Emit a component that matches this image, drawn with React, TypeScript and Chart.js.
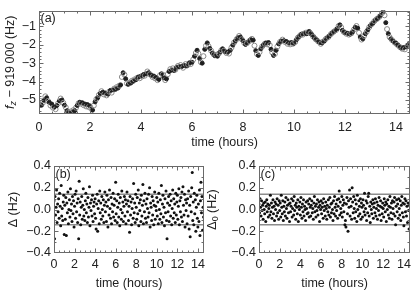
import React, { useEffect, useRef } from 'react';
import { Chart, registerables } from 'chart.js';
Chart.register(...registerables);

const FONT = "'Liberation Sans', Arial, Helvetica, sans-serif";
const TEXT = '#222';

// time axis (hours)
const TIME = [
  0,0.05,0.1,0.15,0.2,0.25,0.3,0.35,0.4,0.45,0.5,0.55,0.6,0.65,0.7,0.75,0.8,0.85,0.9,0.95,
  1,1.05,1.1,1.15,1.2,1.25,1.3,1.35,1.4,1.45,1.5,1.55,1.6,1.65,1.7,1.75,1.8,1.85,1.9,1.95,
  2,2.05,2.1,2.15,2.2,2.25,2.3,2.35,2.4,2.45,2.5,2.55,2.6,2.65,2.7,2.75,2.8,2.85,2.9,2.95,
  3,3.05,3.1,3.15,3.2,3.25,3.3,3.35,3.4,3.45,3.5,3.55,3.6,3.65,3.7,3.75,3.8,3.85,3.9,3.95,
  4,4.05,4.1,4.15,4.2,4.25,4.3,4.35,4.4,4.45,4.5,4.55,4.6,4.65,4.7,4.75,4.8,4.85,4.9,4.95,
  5,5.05,5.1,5.15,5.2,5.25,5.3,5.35,5.4,5.45,5.5,5.55,5.6,5.65,5.7,5.75,5.8,5.85,5.9,5.95,
  6,6.05,6.1,6.15,6.2,6.25,6.3,6.35,6.4,6.45,6.5,6.55,6.6,6.65,6.7,6.75,6.8,6.85,6.9,6.95,
  7,7.05,7.1,7.15,7.2,7.25,7.3,7.35,7.4,7.45,7.5,7.55,7.6,7.65,7.7,7.75,7.8,7.85,7.9,7.95,
  8,8.05,8.1,8.15,8.2,8.25,8.3,8.35,8.4,8.45,8.5,8.55,8.6,8.65,8.7,8.75,8.8,8.85,8.9,8.95,
  9,9.05,9.1,9.15,9.2,9.25,9.3,9.35,9.4,9.45,9.5,9.55,9.6,9.65,9.7,9.75,9.8,9.85,9.9,9.95,
  10,10.05,10.1,10.15,10.2,10.25,10.3,10.35,10.4,10.45,10.5,10.55,10.6,10.65,10.7,10.75,10.8,10.85,10.9,10.95,
  11,11.05,11.1,11.15,11.2,11.25,11.3,11.35,11.4,11.45,11.5,11.55,11.6,11.65,11.7,11.75,11.8,11.85,11.9,11.95,
  12,12.05,12.1,12.15,12.2,12.25,12.3,12.35,12.4,12.45,12.5,12.55,12.6,12.65,12.7,12.75,12.8,12.85,12.9,12.95,
  13,13.05,13.1,13.15,13.2,13.25,13.3,13.35,13.4,13.45,13.5,13.55,13.6,13.65,13.7,13.75,13.8,13.85,13.9,13.95,
  14,14.05,14.1,14.15,14.2,14.25,14.3,14.35,14.4,14.45,14.5,14.55,
];

// (a) f_z - 919 000 (Hz)
const FZ = [
  -5.20,-5.05,-5.28,-5.15,-5.02,-4.80,-4.88,-5.05,-5.12,-5.30,-5.22,-5.42,-5.38,-5.50,-5.30,-5.18,-5.05,-4.92,-5.00,-5.15,
  -5.28,-5.40,-5.58,-5.66,-5.72,-5.62,-5.68,-5.55,-5.58,-5.42,-5.30,-5.18,-5.12,-5.20,-5.15,-5.28,-5.22,-5.35,-5.25,-5.38,
  -5.32,-5.48,-5.55,-5.30,-5.10,-4.95,-4.88,-4.72,-4.65,-4.52,-4.58,-4.70,-4.62,-4.75,-4.68,-4.55,-4.48,-4.60,-4.45,-4.38,
  -4.42,-4.30,-4.35,-4.22,-4.18,-3.75,-3.52,-3.62,-3.85,-4.10,-4.15,-4.05,-4.08,-3.95,-3.98,-3.88,-3.90,-3.80,-3.75,-3.82,
  -3.70,-3.72,-3.62,-3.68,-3.58,-3.45,-3.52,-3.60,-3.66,-3.75,-3.70,-3.82,-3.78,-3.92,-3.88,-3.65,-3.58,-3.62,-3.80,-3.92,
  -3.85,-3.60,-3.45,-3.32,-3.38,-3.28,-3.40,-3.35,-3.22,-3.15,-3.20,-3.10,-3.18,-3.25,-3.12,-3.05,-3.15,-3.08,-2.98,-3.05,
  -2.95,-2.80,-2.62,-2.45,-2.30,-2.48,-2.75,-2.95,-3.00,-2.62,-2.25,-2.05,-1.90,-2.08,-2.20,-2.32,-2.45,-2.52,-2.60,-2.55,
  -2.62,-2.48,-2.40,-2.30,-2.22,-2.32,-2.38,-2.45,-2.40,-2.48,-2.30,-2.15,-2.02,-1.88,-1.80,-1.70,-1.62,-1.52,-1.58,-1.70,
  -1.78,-1.90,-1.98,-1.92,-1.85,-1.80,-1.72,-1.68,-1.75,-2.05,-2.32,-2.50,-2.58,-2.40,-2.22,-2.10,-2.02,-1.95,-1.90,-1.98,
  -1.88,-2.02,-2.25,-2.42,-2.58,-2.50,-2.30,-2.10,-1.95,-1.85,-1.80,-1.72,-1.78,-1.85,-1.82,-1.95,-1.90,-1.98,-1.88,-1.95,
  -1.92,-1.85,-1.72,-1.62,-1.55,-1.48,-1.42,-1.45,-1.38,-1.35,-1.40,-1.32,-1.28,-1.38,-1.45,-1.55,-1.62,-1.70,-1.75,-1.82,
  -1.88,-1.95,-1.90,-1.82,-1.78,-1.68,-1.62,-1.58,-1.50,-1.42,-1.35,-1.30,-1.25,-1.20,-1.12,-0.98,-0.92,-1.05,-1.22,-1.30,
  -1.35,-1.40,-1.38,-1.45,-1.42,-1.38,-1.30,-1.18,-1.05,-0.98,-1.10,-1.35,-1.58,-1.72,-1.68,-1.52,-1.40,-1.30,-1.18,-1.05,
  -0.95,-0.88,-0.82,-0.72,-0.65,-0.60,-0.55,-0.48,-0.40,-0.28,-0.20,-0.40,-0.80,-1.15,-1.40,-1.58,-1.68,-1.75,-1.82,-1.88,
  -1.92,-2.00,-2.05,-2.12,-2.18,-2.22,-2.15,-2.25,-2.12,-2.05,-1.98,-2.00,
];

// (b) Δ (Hz)
const DELTA = [
  0.08,-0.27,0.12,-0.05,0.02,0.18,-0.12,0.05,-0.02,0.10,-0.08,0.15,0.03,-0.15,0.22,-0.06,0.01,-0.10,0.07,0.13,
  -0.23,0.04,-0.09,0.11,-0.24,0.06,-0.03,0.16,-0.13,0.00,0.09,-0.07,0.19,-0.01,0.05,-0.11,0.12,-0.04,0.08,-0.16,
  0.03,0.14,-0.08,0.17,-0.02,0.06,-0.12,0.10,-0.27,0.26,-0.05,0.07,-0.14,0.02,0.12,-0.09,0.04,0.19,-0.06,0.00,
  -0.10,0.08,0.15,-0.03,0.05,-0.12,0.11,-0.07,0.02,0.21,-0.15,0.06,-0.01,0.09,-0.06,0.13,-0.11,0.03,0.07,-0.04,
  0.10,-0.08,-0.18,0.05,0.14,-0.20,0.01,0.08,-0.13,0.17,-0.03,0.06,-0.09,0.12,0.00,-0.06,0.09,-0.12,0.04,0.16,
  -0.02,0.07,-0.11,0.13,0.03,-0.16,0.09,-0.05,0.18,0.01,-0.08,0.11,-0.13,0.05,-0.02,0.15,-0.07,0.04,0.10,-0.10,
  0.25,-0.04,0.08,-0.12,0.02,0.14,-0.07,0.06,-0.15,0.11,0.00,-0.09,0.17,-0.03,0.07,-0.11,0.03,0.12,-0.06,0.09,
  -0.13,0.05,0.16,-0.02,0.08,-0.10,0.03,-0.21,0.12,-0.05,0.07,-0.14,0.01,0.10,-0.08,0.24,-0.03,0.06,-0.12,0.14,
  0.02,-0.09,0.11,-0.04,0.18,-0.15,0.06,-0.01,0.09,-0.11,0.13,-0.06,0.04,0.23,-0.13,0.08,-0.02,0.15,-0.08,0.05,
  -0.12,0.10,0.01,-0.07,0.14,-0.03,0.20,-0.16,0.06,0.02,-0.10,0.12,-0.05,0.08,-0.14,0.04,0.16,-0.09,0.03,-0.01,
  0.11,-0.06,0.07,-0.13,0.15,0.00,-0.09,0.09,-0.04,0.22,-0.12,0.05,0.13,-0.07,0.02,-0.15,0.10,-0.03,0.17,-0.10,
  -0.27,0.06,-0.02,0.12,-0.11,0.04,0.14,-0.06,0.08,-0.14,0.01,0.18,-0.08,0.10,-0.03,0.05,-0.12,0.15,-0.05,0.07,
  0.13,-0.09,0.03,0.19,-0.14,0.08,-0.02,0.11,-0.07,0.16,-0.11,0.21,0.04,-0.05,0.14,-0.16,0.09,-0.01,0.06,-0.13,
  0.10,-0.06,0.17,-0.18,0.04,-0.25,0.12,-0.02,0.20,0.34,-0.10,0.07,-0.14,0.15,-0.04,0.09,-0.20,0.02,0.13,-0.08,
  -0.16,0.05,-0.11,0.18,-0.24,0.08,0.25,-0.03,0.12,-0.19,0.02,-0.07,
];

// (c) Δ0 (Hz)
const DELTA0 = [
  0.05,-0.03,0.10,0.02,-0.06,0.08,-0.01,0.04,-0.09,0.06,0.00,-0.04,0.07,-0.11,0.03,0.09,-0.02,0.05,-0.07,0.01,
  0.04,-0.05,0.13,-0.02,0.06,-0.08,0.02,0.09,-0.04,0.03,-0.10,0.07,0.00,0.05,-0.06,0.10,-0.03,0.04,-0.09,0.08,
  -0.01,0.06,-0.07,0.13,0.02,-0.04,0.08,-0.10,0.03,-0.02,0.07,-0.06,0.11,0.01,-0.08,0.04,0.09,-0.03,0.05,-0.11,
  0.06,-0.02,0.03,0.10,-0.07,0.01,0.08,-0.05,0.12,-0.01,0.04,-0.09,0.06,0.02,-0.04,0.09,-0.11,0.03,0.00,0.07,
  -0.05,0.11,0.02,-0.08,0.05,-0.02,0.09,-0.06,0.03,0.00,-0.10,0.07,0.01,-0.04,0.08,-0.03,0.05,-0.07,0.10,0.02,
  -0.06,0.04,0.08,-0.03,0.01,-0.09,0.06,0.12,-0.02,0.03,-0.07,0.05,-0.01,0.09,-0.05,0.02,0.07,-0.11,0.04,0.00,
  0.08,-0.04,0.02,0.06,-0.08,0.10,-0.01,0.03,-0.06,0.07,0.01,-0.09,0.04,-0.02,0.09,-0.05,0.02,0.11,-0.07,0.05,
  -0.03,0.06,0.00,-0.10,0.08,-0.04,0.12,0.02,-0.06,0.05,-0.01,0.09,-0.08,0.03,0.10,0.17,-0.05,0.07,0.01,-0.03,
  0.12,-0.07,0.04,0.09,-0.02,0.06,-0.14,-0.10,-0.16,0.05,0.11,-0.04,-0.20,0.08,0.02,0.18,-0.06,0.10,0.03,-0.09,
  0.20,0.07,-0.03,0.12,0.01,-0.08,0.09,-0.02,0.05,-0.11,0.13,0.00,-0.06,0.08,0.03,-0.04,0.10,-0.09,0.06,0.02,
  -0.07,0.09,0.04,-0.02,0.15,-0.05,0.01,0.08,-0.10,0.06,-0.03,0.12,0.15,-0.06,0.03,-0.12,0.07,0.00,-0.04,0.05,
  0.09,-0.08,0.02,0.06,-0.03,0.10,-0.06,0.01,0.07,-0.09,0.04,-0.01,0.11,-0.05,0.03,0.08,-0.10,0.02,-0.04,0.06,
  0.01,-0.07,0.10,0.04,-0.02,0.07,-0.11,0.05,0.00,0.09,-0.05,0.03,-0.08,0.12,0.02,-0.03,0.06,-0.09,0.08,0.01,
  -0.04,0.07,0.11,-0.06,-0.14,0.03,0.09,-0.02,0.05,-0.08,0.10,0.01,-0.05,0.08,-0.10,0.04,0.12,-0.03,0.06,-0.07,
  -0.15,0.05,0.10,-0.02,0.08,-0.06,0.03,-0.12,0.06,-0.01,-0.18,0.04,
];

// ±σ reference lines in (b), (c)
const BAND = [0.14, -0.14];

const X_TICKS = [0, 2, 4, 6, 8, 10, 12, 14];
const Y_TICKS_A = [-5, -4, -3, -2, -1];
const Y_TICKS_B = [-0.4, -0.2, 0, 0.2, 0.4];

type Part = { t: string; italic?: boolean; sub?: boolean };

const decor = {
  id: 'decor',
  afterDatasetsDraw(chart: any, _a: any, o: any) {
    const { ctx, chartArea: ca, scales } = chart;
    const xs = scales.x, ys = scales.y;
    const L = Math.round(ca.left) + 0.5, R = Math.round(ca.right) - 0.5;
    const T = Math.round(ca.top) + 0.5, B = Math.round(ca.bottom) - 0.5;
    ctx.save();
    ctx.strokeStyle = '#6a6a6a';
    ctx.lineWidth = 1;
    const line = (x1: number, y1: number, x2: number, y2: number) => {
      ctx.beginPath(); ctx.moveTo(x1, y1); ctx.lineTo(x2, y2); ctx.stroke();
    };
    const xTick = (v: number, len: number) => {
      const px = Math.round(xs.getPixelForValue(v)) + 0.5;
      if (px < L || px > R) return;
      line(px, B, px, B - len); line(px, T, px, T + len);
    };
    const yTick = (v: number, len: number) => {
      const py = Math.round(ys.getPixelForValue(v)) + 0.5;
      if (py < T || py > B) return;
      line(L, py, L + len, py); line(R, py, R - len, py);
    };
    for (let i = Math.ceil(xs.min / o.xMinor); i * o.xMinor <= xs.max + 1e-9; i++) xTick(i * o.xMinor, 2);
    for (let i = Math.ceil(ys.min / o.yMinor); i * o.yMinor <= ys.max + 1e-9; i++) yTick(i * o.yMinor, 2);
    xs.ticks.forEach((t: any) => xTick(t.value, 4));
    ys.ticks.forEach((t: any) => yTick(t.value, 4));
    ctx.strokeRect(L, T, R - L, B - T);

    ctx.fillStyle = TEXT;
    ctx.font = `12.5px ${FONT}`;
    ctx.textBaseline = 'top';
    ctx.textAlign = 'left';
    ctx.fillText(o.letter, ca.left + 1.5, ca.top + 2);

    // rotated y title with subscripts
    const parts: Part[] = o.yTitle;
    const fontOf = (p: Part) => `${p.italic ? 'italic ' : ''}${p.sub ? 9 : 12.5}px ${FONT}`;
    let w = 0;
    parts.forEach(p => { ctx.font = fontOf(p); w += ctx.measureText(p.t).width; });
    ctx.translate(o.titleX, (ca.top + ca.bottom) / 2);
    ctx.rotate(-Math.PI / 2);
    ctx.textBaseline = 'alphabetic';
    let x = -w / 2;
    parts.forEach(p => {
      ctx.font = fontOf(p);
      ctx.fillText(p.t, x, p.sub ? 7 : 4.5);
      x += ctx.measureText(p.t).width;
    });
    ctx.restore();
  },
};

const minus = (s: string) => s.replace('-', '\u2212');

function axes(opts: any) {
  return {
    x: {
      type: 'linear', min: 0, max: opts.xMax,
      afterBuildTicks: (s: any) => { s.ticks = X_TICKS.map(v => ({ value: v })); },
      ticks: { font: { family: FONT, size: 12.5 }, color: TEXT, padding: opts.xPad, maxRotation: 0, autoSkip: false, callback: (v: any) => String(v) },
      grid: { display: false, drawTicks: false },
      border: { display: false },
      title: { display: true, text: 'time (hours)', font: { family: FONT, size: 12.5 }, color: TEXT, padding: { top: 0, bottom: opts.titlePad } },
      afterFit: (s: any) => { s.height = opts.xH; },
    },
    y: {
      type: 'linear', min: opts.yMin, max: opts.yMax,
      afterBuildTicks: (s: any) => { s.ticks = opts.yTicks.map((v: number) => ({ value: v })); },
      ticks: { font: { family: FONT, size: 12.5 }, color: TEXT, padding: 3, callback: opts.yFmt },
      grid: { display: false, drawTicks: false },
      border: { display: false },
      afterFit: (s: any) => { s.width = opts.yW; },
    },
  };
}

const common = { responsive: false, animation: false as const, events: [] as any[] };

function configA(): any {
  return {
    type: 'scatter',
    data: {
      datasets: [{
        data: TIME.map((t, i) => ({ x: t, y: FZ[i] })),
        pointRadius: (c: any) => (c.dataIndex % 2 ? 2.5 : 2.0),
        backgroundColor: (c: any) => (c.dataIndex % 2 ? 'rgba(255,255,255,0)' : '#1e1e1e'),
        borderColor: (c: any) => (c.dataIndex % 2 ? '#8a8a8a' : '#1e1e1e'),
        borderWidth: 1,
      }],
    },
    options: {
      ...common,
      layout: { padding: { top: 1, right: 1, left: 0, bottom: 0 } },
      plugins: { legend: { display: false }, tooltip: { enabled: false },
        decor: { letter: '(a)', xMinor: 0.5, yMinor: 0.2, titleX: 9,
          yTitle: [{ t: 'f', italic: true }, { t: 'z', italic: true, sub: true }, { t: ' \u2212 919\u2009000 (Hz)' }] } },
      scales: axes({ xMax: 14.55, yMin: -5.76, yMax: -0.14, yTicks: Y_TICKS_A, xH: 36, yW: 39, xPad: 6, titlePad: 0,
        yFmt: (v: any) => minus(String(v)) }),
    },
    plugins: [decor],
  };
}

function configB(values: number[], letter: string, yTitle: Part[], yW: number, titleX: number, rightPad: number): any {
  return {
    type: 'scatter',
    data: {
      datasets: [
        ...BAND.map(b => ({
          type: 'line', data: [{ x: 0, y: b }, { x: 14.6, y: b }],
          borderColor: '#8c8c8c', borderWidth: 1.5, pointRadius: 0, order: 2,
        })),
        {
          data: TIME.map((t, i) => ({ x: t, y: values[i] })),
          pointRadius: 1.5, backgroundColor: '#111', borderColor: '#111', borderWidth: 0, order: 1,
        },
      ],
    },
    options: {
      ...common,
      layout: { padding: { top: 16, right: rightPad, left: 0, bottom: 0 } },
      plugins: { legend: { display: false }, tooltip: { enabled: false },
        decor: { letter, xMinor: 0.5, yMinor: 0.1, titleX, yTitle } },
      scales: axes({ xMax: 14.6, yMin: -0.4, yMax: 0.4, yTicks: Y_TICKS_B, xH: 41, yW, xPad: 4, titlePad: 3,
        yFmt: (v: any) => minus(Number(v).toFixed(1)) }),
    },
    plugins: [decor],
  };
}

function Panel({ make, left, top, width, height }: { make: () => any; left: number; top: number; width: number; height: number }) {
  const ref = useRef<HTMLCanvasElement | null>(null);
  useEffect(() => {
    const chart = new Chart(ref.current as HTMLCanvasElement, make());
    return () => chart.destroy();
  }, []);
  return (
    <canvas ref={ref} width={width} height={height}
      style={{ position: 'absolute', left, top, width, height }} />
  );
}

export default function App() {
  return (
    <div style={{ position: 'absolute', left: 0, top: 0, width: 415, height: 294, background: '#fff', overflow: 'hidden' }}>
      <Panel make={configA} left={0} top={0} width={415} height={150} />
      <Panel make={() => configB(DELTA, '(b)', [{ t: '\u0394 (Hz)' }], 54, 12, 2)} left={0} top={150} width={209} height={144} />
      <Panel make={() => configB(DELTA0, '(c)', [{ t: '\u0394' }, { t: '0', sub: true }, { t: ' (Hz)' }], 59, 11, 3)} left={200} top={150} width={215} height={144} />
    </div>
  );
}
